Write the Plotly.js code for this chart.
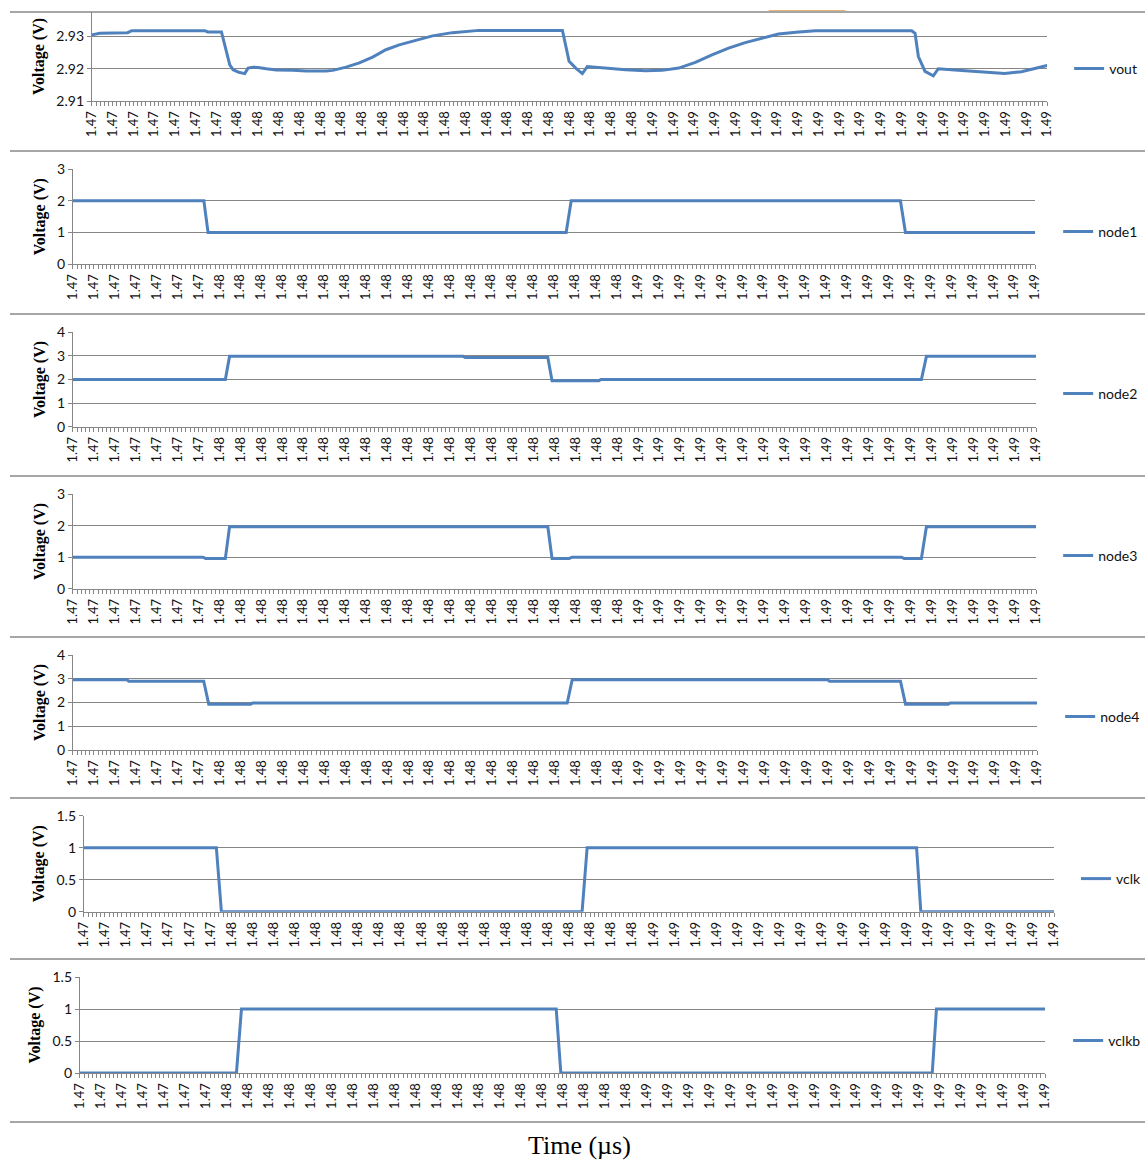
<!DOCTYPE html>
<html>
<head>
<meta charset="utf-8">
<script src="https://cdn.plot.ly/plotly-3.0.1.min.js"></script>
<style>
html,body{margin:0;padding:0;background:#ffffff;}
#chart{width:1147px;height:1160px;}
</style>
</head>
<body>
<div id="chart"></div>
<script>
// ---------------- DATA (time in µs, voltage in V) ----------------
const voutTime = [1.47180,1.47199,1.47266,1.47276,1.47452,1.47459,1.47492,1.47512,1.47520,1.47534,1.47548,1.47556,1.47568,1.47580,1.47600,1.47624,1.47664,1.47696,1.47744,1.47760,1.47792,1.47824,1.47856,1.47888,1.47920,1.47952,1.48000,1.48048,1.48112,1.48313,1.48329,1.48345,1.48361,1.48373,1.48417,1.48465,1.48513,1.48553,1.48593,1.48633,1.48673,1.48713,1.48753,1.48793,1.48833,1.48882,1.48922,1.49154,1.49162,1.49170,1.49186,1.49206,1.49218,1.49266,1.49314,1.49346,1.49378,1.49418,1.49450,1.49480];
const voutValue = [2.9305,2.9310,2.9312,2.9318,2.9318,2.9314,2.9314,2.9212,2.9197,2.9189,2.9185,2.9202,2.9205,2.9204,2.9200,2.9196,2.9195,2.9193,2.9193,2.9195,2.9205,2.9218,2.9236,2.9259,2.9274,2.9285,2.9302,2.9312,2.9319,2.9319,2.9223,2.9202,2.9185,2.9207,2.9202,2.9197,2.9194,2.9195,2.9202,2.9220,2.9243,2.9264,2.9281,2.9295,2.9308,2.9314,2.9318,2.9318,2.9310,2.9238,2.9192,2.9178,2.9200,2.9195,2.9191,2.9190,2.9185,2.9191,2.9202,2.9210];

const node1Time  = [1.47180,1.47493,1.47503,1.48359,1.48371,1.49158,1.49170,1.49480];
const node1Value = [2,2,1,1,2,2,1,1];

const node2Time  = [1.47180,1.47544,1.47554,1.48112,1.48117,1.48314,1.48324,1.48436,1.48441,1.49206,1.49218,1.49480];
const node2Value = [2.0,2.0,2.98,2.98,2.93,2.93,1.95,1.95,2.0,2.0,2.98,2.98];

const node3Time  = [1.47180,1.47490,1.47497,1.47544,1.47554,1.48314,1.48324,1.48365,1.48372,1.49158,1.49165,1.49206,1.49218,1.49480];
const node3Value = [1.0,1.0,0.96,0.96,1.97,1.97,0.96,0.96,1.0,1.0,0.96,0.96,1.97,1.97];

const node4Time  = [1.47180,1.47309,1.47313,1.47492,1.47504,1.47604,1.47609,1.48359,1.48371,1.48980,1.48985,1.49154,1.49166,1.49268,1.49273,1.49480];
const node4Value = [2.96,2.96,2.90,2.90,1.93,1.93,1.98,1.98,2.96,2.96,2.90,2.90,1.93,1.93,1.98,1.98];

const vclkTime  = [1.47180,1.47494,1.47506,1.48361,1.48373,1.49154,1.49164,1.49480];
const vclkValue = [1,1,0,0,1,1,0,0];

const vclkbTime  = [1.47180,1.47553,1.47565,1.48315,1.48326,1.49211,1.49221,1.49480];
const vclkbValue = [0,0,1,1,0,0,1,1];

const seriesNames = ['vout','node1','node2','node3','node4','vclk','vclkb'];
const yRanges = [[2.91,2.9376],[0,3],[0,4],[0,3],[0,4],[0,1.5],[0,1.5]];
const yDticks = [0.01,1,1,1,1,0.5,0.5];
const tickStep = 0.0005;      // µs between labelled categories
const minorStep = 0.0001;     // µs between samples
const yTitle = 'Voltage (V)';
const xTitle = 'Time (µs)';

// ---------------- LAYOUT (pixel geometry) ----------------
const W = 1147, H = 1160;
const panels = [
  {x0:92, x1:1049, y0:12,    y1:101,   lx:1071, ly:69},
  {x0:73, x1:1037, y0:169.3, y1:264,   lx:1060, ly:232},
  {x0:73, x1:1038, y0:332.3, y1:426.7, lx:1060, ly:394},
  {x0:73, x1:1038, y0:494.3, y1:588.7, lx:1060, ly:556},
  {x0:73, x1:1039, y0:655,   y1:750,   lx:1062, ly:717},
  {x0:84, x1:1056, y0:815.7, y1:911.7, lx:1078, ly:879},
  {x0:80, x1:1047, y0:977,   y1:1073,  lx:1070, ly:1041}
];
const times = [voutTime,node1Time,node2Time,node3Time,node4Time,vclkTime,vclkbTime];
const values = [voutValue,node1Value,node2Value,node3Value,node4Value,vclkValue,vclkbValue];

const BLUE = '#4F81BD';
const GRID = '#868686';
const TICKFONT = 'Lato, "Open Sans", "Liberation Sans", sans-serif';
const SERIF = '"Liberation Serif", "Times New Roman", serif';

const traces = [];
const layout = {
  width: W, height: H,
  margin: {l:0, r:0, t:0, b:0},
  paper_bgcolor: '#ffffff',
  plot_bgcolor: '#ffffff',
  showlegend: true,
  shapes: [],
  annotations: []
};

panels.forEach((p, i) => {
  const n = i === 0 ? '' : String(i + 1);
  const t = times[i];
  traces.push({
    type: 'scatter', mode: 'lines',
    name: seriesNames[i],
    showlegend: true,
    x: t, y: values[i],
    xaxis: 'x' + n, yaxis: 'y' + n,
    legend: 'legend' + n,
    line: {color: BLUE, width: 3, shape: 'linear'},
    hoverinfo: 'skip'
  });
  const tStart = t[0], tEnd = t[t.length - 1];
  layout['xaxis' + n] = {
    domain: [p.x0 / W, p.x1 / W],
    anchor: 'y' + n,
    range: [tStart - 1e-6, tEnd + 1e-6],
    tickmode: 'linear', tick0: tStart, dtick: tickStep,
    tickformat: '.2f', tickangle: -90,
    ticks: 'outside', ticklen: 4, tickwidth: 1, tickcolor: GRID,
    minor: {ticks: 'outside', ticklen: 4, tickwidth: 1, tickcolor: GRID, tick0: tStart, dtick: minorStep, showgrid: false},
    showline: true, linecolor: GRID, linewidth: 1,
    showgrid: false, zeroline: false,
    tickfont: {family: TICKFONT, size: 13, color: '#111111'},
    fixedrange: true
  };
  const yr = yRanges[i];
  layout['yaxis' + n] = {
    domain: [1 - p.y1 / H, 1 - p.y0 / H],
    anchor: 'x' + n,
    range: yr,
    tickmode: 'linear', tick0: yr[0], dtick: yDticks[i],
    tickformat: i === 0 ? '.2f' : '',
    ticks: 'outside', ticklen: 4, tickwidth: 1, tickcolor: GRID,
    showline: true, linecolor: GRID, linewidth: 1,
    showgrid: true, gridcolor: GRID, gridwidth: 1,
    zeroline: false,
    tickfont: {family: TICKFONT, size: 14, color: '#111111'},
    title: {text: yTitle, font: {family: SERIF, size: 16, color: '#000', weight: 700}, standoff: 7},
    fixedrange: true
  };
  layout['legend' + n] = {
    x: p.lx / W, y: 1 - p.ly / H,
    xanchor: 'left', yanchor: 'middle',
    bgcolor: 'rgba(0,0,0,0)', borderwidth: 0,
    itemwidth: 30,
    font: {family: TICKFONT, size: 14, color: '#111111'}
  };
});

// separator lines between the stacked charts
const sepY = [12, 151, 314, 476, 637, 798, 959, 1122];
sepY.forEach(py => {
  layout.shapes.push({
    type: 'line', xref: 'paper', yref: 'paper',
    x0: 10 / W, x1: 1, y0: 1 - py / H, y1: 1 - py / H,
    line: {color: '#a6a6a6', width: 2}, layer: 'below'
  });
});
// small orange mark at the top edge
layout.shapes.push({
  type: 'line', xref: 'paper', yref: 'paper',
  x0: 770 / W, x1: 847 / W, y0: 1 - 10.5 / H, y1: 1 - 10.5 / H,
  line: {color: '#E3B577', width: 1}
});

layout.annotations.push({
  xref: 'paper', yref: 'paper', x: 581 / W, y: 1 - 1145 / H,
  xanchor: 'center', yanchor: 'middle', showarrow: false,
  text: xTitle, font: {family: SERIF, size: 26, color: '#000'}
});

Plotly.newPlot('chart', traces, layout, {staticPlot: true, displayModeBar: false});
</script>
</body>
</html>
